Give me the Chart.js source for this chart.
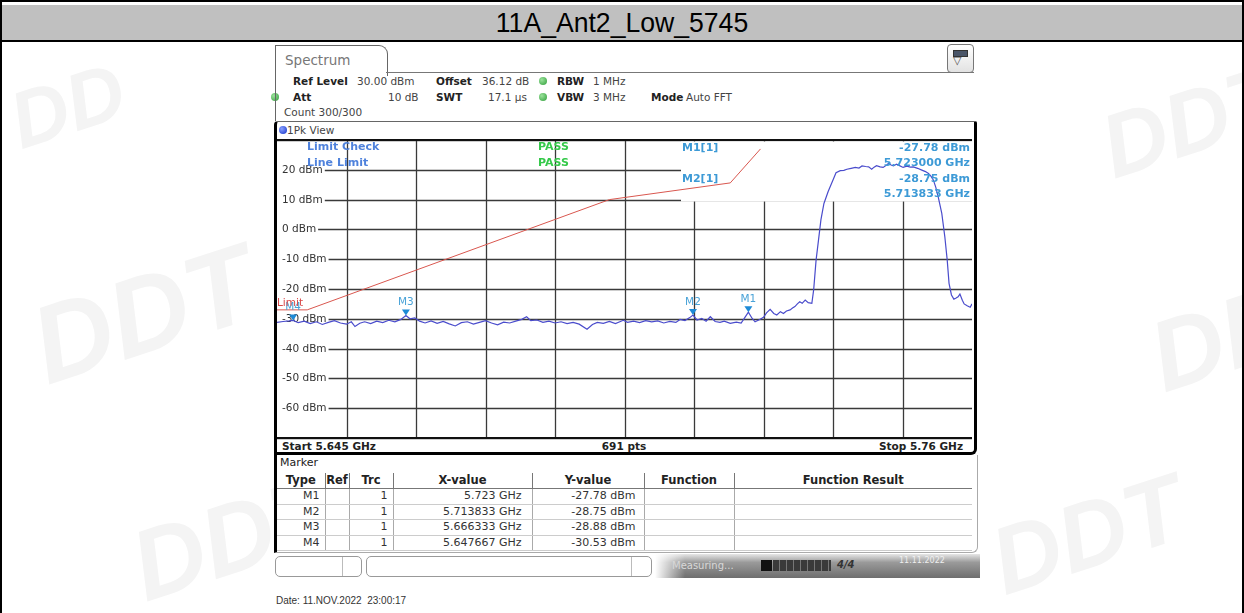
<!DOCTYPE html>
<html>
<head>
<meta charset="utf-8">
<title>11A_Ant2_Low_5745</title>
<script src="https://cdn.jsdelivr.net/npm/chart.js@4.4.1/dist/chart.umd.min.js"></script>
<style>
  html,body{margin:0;padding:0;background:#fff;}
  #page{position:relative;width:1244px;height:613px;overflow:hidden;background:#fff;font-family:"DejaVu Sans",sans-serif;color:#222;}
  .a{position:absolute;white-space:nowrap;}
  .t{font-size:10.5px;line-height:12px;}
  .b{font-weight:bold;color:#222;}
  .v{color:#444;}
  .wm{position:absolute;font-family:'Liberation Sans',Arial,sans-serif;font-weight:bold;font-style:italic;color:#f4f4f4;white-space:nowrap;}
  .dot{position:absolute;width:8px;height:8px;border-radius:50%;background:radial-gradient(circle at 35% 35%,#9be39b,#2f9d3a);}
  #mtable{position:absolute;left:277px;top:473px;width:695px;border-collapse:collapse;table-layout:fixed;font-size:11px;color:#333;}
  #mtable th{font-weight:bold;font-size:11.5px;color:#222;height:15px;padding:0;border-left:1px solid #777;border-bottom:1px solid #777;text-align:center;line-height:15px;}
  #mtable th:first-child{border-left:none;}
  #mtable td{height:14.5px;padding:0 6px 0 0;border-left:1px solid #aaa;border-bottom:1px solid #ccc;text-align:right;line-height:14px;}
  #mtable td:first-child{border-left:none;}
</style>
</head>
<body>
<div id="page">
  <!-- faint watermarks -->
  <div class="wm" style="left:10px;top:60px;font-size:80px;transform:rotate(-18deg)">DD</div>
  <div class="wm" style="left:30px;top:250px;font-size:110px;transform:rotate(-18deg)">DDT</div>
  <div class="wm" style="left:130px;top:480px;font-size:100px;transform:rotate(-18deg)">DDT</div>
  <div class="wm" style="left:1100px;top:70px;font-size:90px;transform:rotate(-18deg)">DDT</div>
  <div class="wm" style="left:1150px;top:280px;font-size:100px;transform:rotate(-18deg)">DD</div>
  <div class="wm" style="left:990px;top:480px;font-size:95px;transform:rotate(-18deg)">DDT</div>

  <!-- outer frame and title band -->
  <div class="a" style="left:0;top:0;width:1244px;height:2px;background:#000"></div>
  <div class="a" style="left:0;top:0;width:2px;height:613px;background:#000"></div>
  <div class="a" style="left:1242px;top:0;width:2px;height:613px;background:#000"></div>
  <div class="a" style="left:2px;top:5px;width:1240px;height:35px;background:#c0c0c0"></div>
  <div class="a" style="left:0;top:40px;width:1244px;height:2px;background:#000"></div>
  <div class="a" id="title" style="left:0;top:5px;width:1244px;height:35px;line-height:36px;text-align:center;font-family:'Liberation Sans',Arial,sans-serif;font-size:28px;color:#000;transform:scaleX(0.95);"></div>

  <!-- Spectrum tab -->
  <div class="a" style="left:275px;top:45px;width:111px;height:30px;border:1px solid #666;border-bottom:none;border-radius:0 9px 0 0;background:#fff"></div>
  <div class="a" style="left:386px;top:72px;width:588px;height:1px;background:#777"></div>
  <div class="a" style="left:285px;top:52px;font-size:13.5px;line-height:16px;color:#777">Spectrum</div>
  <div class="a" style="left:947px;top:44px;width:25px;height:27px;border:1px solid #777;border-radius:4px;background:linear-gradient(#fff,#e2e2e2)"></div>
  <div class="a" style="left:953px;top:50px;width:13px;height:5px;background:#4a5568;border:1px solid #333"></div>
  <div class="a" style="left:953px;top:55px;font-size:11px;line-height:12px;color:#555">&#9661;</div>

  <!-- header info -->
  <div class="a t b" style="left:293px;top:75px">Ref Level</div>
  <div class="a t v" style="left:357px;top:75px">30.00 dBm</div>
  <div class="a t b" style="left:436px;top:75px">Offset</div>
  <div class="a t v" style="left:482px;top:75px">36.12 dB</div>
  <div class="dot" style="left:539px;top:77px"></div>
  <div class="a t b" style="left:557px;top:75px">RBW</div>
  <div class="a t v" style="left:593px;top:75px">1 MHz</div>

  <div class="dot" style="left:271px;top:93px"></div>
  <div class="a t b" style="left:293px;top:91px">Att</div>
  <div class="a t v" style="left:388px;top:91px">10 dB</div>
  <div class="a t b" style="left:436px;top:91px">SWT</div>
  <div class="a t v" style="left:488px;top:91px">17.1 µs</div>
  <div class="dot" style="left:539px;top:93px"></div>
  <div class="a t b" style="left:557px;top:91px">VBW</div>
  <div class="a t v" style="left:593px;top:91px">3 MHz</div>
  <div class="a t b" style="left:651px;top:91px">Mode</div>
  <div class="a t v" style="left:686px;top:91px">Auto FFT</div>

  <div class="a t v" style="left:284px;top:106px">Count 300/300</div>

  <!-- 1Pk View panel -->
  <div class="a" style="left:274px;top:121px;width:697px;height:330px;background:#fff;border-top:1px solid #666;border-left:3px solid #000;border-right:3px solid #000;border-bottom:3px solid #000;border-radius:4px 2px 6px 0;"></div>
  <div class="a" style="left:279px;top:126px;width:8px;height:8px;border-radius:50%;background:radial-gradient(circle at 35% 35%,#8aa0ff,#1232c8)"></div>
  <div class="a t v" style="left:287px;top:124px">1Pk View</div>
  <div class="a" style="left:275px;top:45px;width:1px;height:76px;background:#666"></div>

  <!-- start/stop row -->
  <div class="a t b" id="startLbl" style="left:282px;top:440px"></div>
  <div class="a t b" id="ptsLbl" style="left:574px;top:440px;width:100px;text-align:center"></div>
  <div class="a t b" id="stopLbl" style="left:863px;top:440px;width:100px;text-align:right"></div>

  <!-- Marker panel -->
  <div class="a" style="left:274px;top:455px;width:700px;height:97px;background:#fff;border:1px solid #aaa;border-left:3px solid #000;border-top:none;border-radius:0 0 6px 0;"></div>
  <div class="a t" style="left:280px;top:457px;color:#222;font-size:11px">Marker</div>
  <table id="mtable">
    <colgroup><col style="width:48px"><col style="width:24px"><col style="width:44px"><col style="width:139px"><col style="width:112px"><col style="width:90px"><col style="width:238px"></colgroup>
    <thead><tr><th>Type</th><th>Ref</th><th>Trc</th><th>X-value</th><th>Y-value</th><th>Function</th><th>Function Result</th></tr></thead>
    <tbody id="mbody"></tbody>
  </table>

  <!-- status bar -->
  <div class="a" style="left:275px;top:556px;width:85px;height:19px;border:1px solid #999;border-radius:5px;background:#fff"></div>
  <div class="a" style="left:342px;top:557px;width:1px;height:19px;background:#bbb"></div>
  <div class="a" style="left:366px;top:556px;width:284px;height:19px;border:1px solid #999;border-radius:5px;background:#fff"></div>
  <div class="a" style="left:631px;top:557px;width:1px;height:19px;background:#bbb"></div>
  <div class="a" style="left:655px;top:554px;width:325px;height:24px;background:linear-gradient(to bottom,#e6e6e6 0%,#9a9a9a 35%,#6e6e6e 100%)"></div>
  <div class="a" style="left:655px;top:554px;width:30px;height:24px;background:linear-gradient(to right,#fff,rgba(255,255,255,0))"></div>
  <div class="a" style="left:672px;top:560px;font-size:10px;line-height:12px;color:#d8d8d8">Measuring...</div>
  <div class="a" style="left:761px;top:560px;width:11px;height:11px;background:#111"></div>
  <div class="a" style="left:773px;top:560px;width:58px;height:11px;background:repeating-linear-gradient(to right,#3a3a3a 0,#3a3a3a 6px,#777 6px,#777 7px)"></div>
  <div class="a" style="left:837px;top:559px;font-size:10px;line-height:12px;color:#333;font-style:italic;font-weight:bold">4/4</div>
  <div class="a" style="left:899px;top:556px;font-size:8px;line-height:10px;color:#eee">11.11.2022</div>

  <div class="a" style="left:276px;top:595px;font-family:'Liberation Sans',Arial,sans-serif;font-size:10px;line-height:12px;color:#333">Date: 11.NOV.2022&nbsp; 23:00:17</div>

  <canvas id="c" width="1244" height="613" style="position:absolute;left:0;top:0;"></canvas>
</div>

<script>
// ---------------- data ----------------
const chartTitle = '11A_Ant2_Low_5745';
const xMinMHz = 5645, xMaxMHz = 5760;
const yMinDbm = -70, yMaxDbm = 30;

const traceFreqMHz = [
  5645.0,5646.0,5647.0,5647.667,5648.5,5649.5,5650.5,5651.5,5652.5,5653.5,
  5654.5,5655.5,5656.5,5657.3,5657.9,5658.7,5659.5,5660.5,5661.5,5662.5,
  5663.5,5664.5,5665.5,5666.333,5667.0,5667.8,5668.6,5669.5,5670.5,5671.5,
  5672.5,5673.5,5674.5,5675.5,5676.5,5677.5,5678.5,5679.5,5680.5,5681.5,
  5682.5,5683.5,5684.5,5685.5,5686.3,5687.0,5688.0,5689.0,5690.0,5691.0,
  5692.0,5693.0,5694.0,5695.0,5696.3,5697.2,5698.0,5699.0,5700.0,5701.0,
  5702.3,5703.0,5704.0,5705.0,5706.0,5707.0,5708.0,5709.0,5710.0,5711.0,
  5711.7,5712.5,5713.3,5713.833,5714.5,5715.3,5716.0,5716.7,5717.5,5718.3,
  5719.0,5720.0,5721.0,5721.8,5722.4,5723.0,5723.6,5724.1,5724.8,5725.5,
  5726.0,5726.6,5727.2,5727.7,5728.3,5728.8,5729.3,5729.9,5730.3,5730.7,
  5731.1,5731.5,5731.9,5732.4,5732.9,5733.5,5733.8,5734.2,5734.6,5735.0,
  5735.5,5736.2,5737.0,5737.5,5738.2,5738.8,5739.3,5740.0,5740.7,5741.3,
  5741.8,5742.4,5742.9,5743.4,5743.8,5744.2,5744.8,5745.3,5745.8,5746.2,
  5746.6,5747.0,5747.5,5748.0,5748.6,5749.2,5749.8,5750.3,5751.0,5751.7,
  5752.3,5752.8,5753.2,5753.6,5754.0,5754.4,5755.0,5755.5,5755.9,5756.2,
  5756.6,5757.0,5757.3,5757.7,5758.0,5758.4,5758.7,5759.2,5759.7,5760.0
];
const traceLevelDbm = [
  -31.2,-30.9,-30.7,-30.53,-31.3,-30.8,-31.6,-31.0,-31.9,-31.2,
  -30.6,-31.4,-31.8,-31.0,-32.6,-31.5,-31.0,-31.6,-30.8,-31.3,
  -30.5,-31.0,-30.2,-28.88,-30.0,-29.7,-30.8,-31.4,-30.7,-31.5,
  -30.9,-31.7,-32.4,-31.3,-31.0,-31.8,-31.2,-30.6,-31.4,-32.0,
  -31.1,-31.4,-30.8,-30.2,-29.3,-30.6,-30.4,-31.2,-30.8,-31.4,
  -31.0,-31.6,-31.2,-31.8,-33.5,-31.9,-31.2,-31.5,-30.9,-31.6,
  -30.5,-31.2,-30.8,-31.3,-30.6,-31.0,-30.7,-31.4,-30.9,-31.2,
  -30.2,-30.6,-29.6,-28.75,-30.4,-29.9,-30.8,-29.3,-30.9,-31.2,
  -30.8,-31.5,-31.1,-31.4,-29.6,-27.78,-29.8,-31.0,-30.3,-29.5,
  -28.0,-26.8,-28.2,-28.7,-27.6,-28.2,-27.4,-27.0,-26.4,-25.9,
  -25.0,-24.3,-24.8,-23.7,-24.6,-24.8,-20.3,-10.3,-3.6,3.2,
  8.7,12.7,16.6,19.0,19.7,19.8,20.2,20.5,20.8,20.6,
  21.3,21.1,21.0,20.2,20.9,21.4,21.0,20.8,21.5,22.2,
  21.6,21.3,21.9,21.4,20.8,21.2,20.9,21.0,20.5,19.9,
  19.4,18.8,17.9,16.6,14.2,11.0,5.4,-2.4,-10.3,-18.1,
  -22.0,-23.4,-23.1,-22.6,-21.7,-23.8,-25.0,-25.6,-26.1,-25.0
];

const limitFreqMHz = [5645, 5650, 5700, 5720, 5725];
const limitLevelDbm = [-27, -27, 10, 15.6, 27];

const markerNames = ['M1', 'M2', 'M3', 'M4'];
const markerFreqMHz = [5723.0, 5713.833, 5666.333, 5647.667];
const markerLevelDbm = [-27.78, -28.75, -28.88, -30.53];

const yTickValues = [30, 20, 10, 0, -10, -20, -30, -40, -50, -60, -70];
const yTickLabels = ['', '20 dBm', '10 dBm', '0 dBm', '-10 dBm', '-20 dBm', '-30 dBm', '-40 dBm', '-50 dBm', '-60 dBm', ''];
const xGridMHz = [5656.5, 5668, 5679.5, 5691, 5702.5, 5714, 5725.5, 5737, 5748.5];

const startLabel = 'Start 5.645 GHz';
const pointsLabel = '691 pts';
const stopLabel = 'Stop 5.76 GHz';

// ---------------- text fill ----------------
document.getElementById('title').textContent = chartTitle;
document.getElementById('startLbl').textContent = startLabel;
document.getElementById('ptsLbl').textContent = pointsLabel;
document.getElementById('stopLbl').textContent = stopLabel;
const fmtGHz = f => parseFloat((f / 1000).toFixed(6)) + ' GHz';
const tb = document.getElementById('mbody');
markerNames.forEach((m, i) => {
  const tr = document.createElement('tr');
  [m, '', '1', fmtGHz(markerFreqMHz[i]), markerLevelDbm[i].toFixed(2) + ' dBm', '', ''].forEach((txt, k) => {
    const td = document.createElement('td');
    td.textContent = txt;
    if (k === 0) td.style.paddingRight = '5px';
    if (k === 2) td.style.paddingRight = '5px';
    if (k === 3) td.style.paddingRight = '10px';
    if (k === 4) td.style.paddingRight = '8px';
    tr.appendChild(td);
  });
  tb.appendChild(tr);
});

// ---------------- chart ----------------
const GRID = '#3a3a3a';
const FONT = '"DejaVu Sans", sans-serif';

const gridPlugin = {
  id: 'rsGrid',
  beforeDatasetsDraw(chart) {
    const { ctx, chartArea: a, scales: { x, y } } = chart;
    ctx.save();
    ctx.lineWidth = 1.3;
    ctx.strokeStyle = GRID;
    xGridMHz.forEach(f => {
      const px = Math.round(x.getPixelForValue(f)) + 0.5;
      ctx.beginPath(); ctx.moveTo(px, a.top); ctx.lineTo(px, a.bottom); ctx.stroke();
    });
    ctx.font = '10.5px ' + FONT;
    ctx.textBaseline = 'middle';
    yTickValues.forEach((v, i) => {
      const py = Math.round(y.getPixelForValue(v)) + 0.5;
      let x0 = a.left;
      const lbl = yTickLabels[i];
      if (lbl) {
        ctx.fillStyle = '#333';
        ctx.fillText(lbl, a.left + 5, py);
        x0 = a.left + 5 + ctx.measureText(lbl).width + 2;
      }
      ctx.beginPath(); ctx.moveTo(x0, py); ctx.lineTo(a.right, py); ctx.stroke();
    });
    // marker readout panel area (blank)
    ctx.fillStyle = '#fff';
    ctx.fillRect(a.left + 404, a.top + 1.5, a.right - (a.left + 404), 60);
    // frame lines
    ctx.strokeStyle = '#111';
    ctx.lineWidth = 2;
    ctx.beginPath(); ctx.moveTo(a.left, a.top); ctx.lineTo(a.right, a.top); ctx.stroke();
    ctx.beginPath(); ctx.moveTo(a.left, a.bottom); ctx.lineTo(a.right, a.bottom); ctx.stroke();
    ctx.restore();
  },
  afterDatasetsDraw(chart) {
    const { ctx, chartArea: a, scales: { x, y } } = chart;
    ctx.save();
    ctx.textBaseline = 'middle';
    // limit check info
    ctx.font = 'bold 11px ' + FONT;
    ctx.fillStyle = '#4f82dc';
    ctx.fillText('Limit Check', a.left + 30, a.top + 7.5);
    ctx.fillText('Line Limit', a.left + 30, a.top + 23.5);
    ctx.fillStyle = '#35c94a';
    ctx.fillText('PASS', a.left + 261, a.top + 7.5);
    ctx.fillText('PASS', a.left + 261, a.top + 23.5);
    // marker symbols
    markerNames.forEach((m, i) => {
      const px = x.getPixelForValue(markerFreqMHz[i]);
      const py = y.getPixelForValue(markerLevelDbm[i]);
      ctx.fillStyle = '#1d8ad6';
      ctx.beginPath();
      ctx.moveTo(px - 4, py - 6); ctx.lineTo(px + 4, py - 6); ctx.lineTo(px, py);
      ctx.closePath(); ctx.fill();
      ctx.font = '10.5px ' + FONT;
      ctx.fillStyle = '#4aa3d8';
      ctx.textAlign = 'center';
      ctx.fillText(m, px, py - 13);
    });
    // limit line label
    ctx.textAlign = 'left';
    ctx.font = '10.5px ' + FONT;
    ctx.fillStyle = '#d94848';
    ctx.fillText('Limit', a.left, y.getPixelForValue(limitLevelDbm[0]) - 7);
    // marker readout (M1, M2)
    ctx.font = 'bold 11px ' + FONT;
    ctx.fillStyle = '#3d9ad6';
    [0, 1].forEach((i, r) => {
      const yy = a.top + 8.5 + r * 31;
      ctx.textAlign = 'left';
      ctx.fillText(markerNames[i] + '[1]', a.left + 405, yy);
      ctx.textAlign = 'right';
      ctx.fillText(markerLevelDbm[i].toFixed(2) + ' dBm', a.right - 2, yy);
      ctx.fillText((markerFreqMHz[i] / 1000).toFixed(6) + ' GHz', a.right - 2, yy + 15);
    });
    ctx.restore();
  }
};

new Chart(document.getElementById('c'), {
  type: 'line',
  data: {
    datasets: [
      {
        label: 'Trace 1',
        data: traceFreqMHz.map((f, i) => ({ x: f, y: traceLevelDbm[i] })),
        borderColor: '#4a4ccc',
        borderWidth: 1.2,
        pointRadius: 0,
        tension: 0
      },
      {
        label: 'Limit',
        data: limitFreqMHz.map((f, i) => ({ x: f, y: limitLevelDbm[i] })),
        borderColor: '#d9574f',
        borderWidth: 1,
        pointRadius: 0,
        tension: 0
      }
    ]
  },
  options: {
    responsive: false,
    animation: false,
    devicePixelRatio: 1,
    layout: { padding: { left: 277, right: 272, top: 140, bottom: 175 } },
    scales: {
      x: { type: 'linear', min: xMinMHz, max: xMaxMHz, display: false },
      y: { type: 'linear', min: yMinDbm, max: yMaxDbm, display: false }
    },
    plugins: { legend: { display: false }, tooltip: { enabled: false } }
  },
  plugins: [gridPlugin]
});
</script>
</body>
</html>
